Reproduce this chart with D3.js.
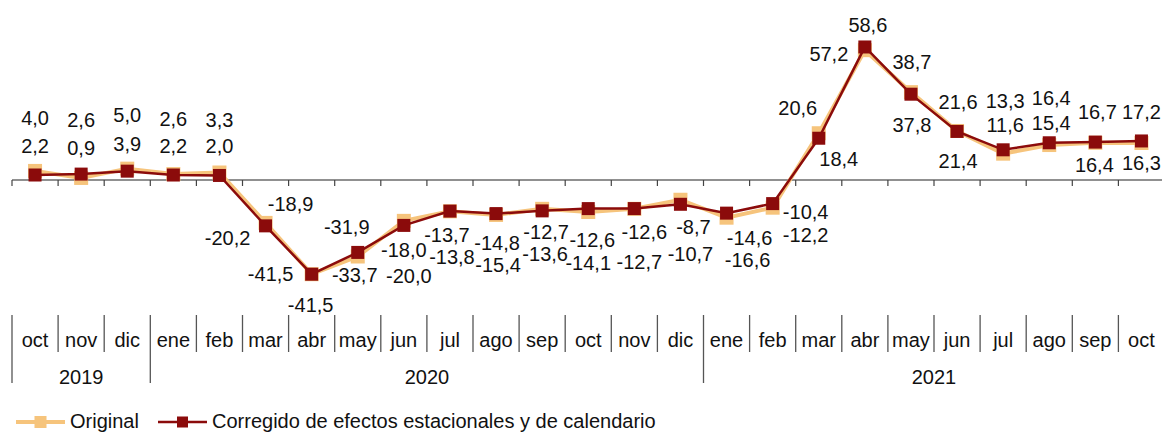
<!DOCTYPE html>
<html lang="es">
<head>
<meta charset="utf-8">
<script src="https://cdnjs.cloudflare.com/ajax/libs/d3/7.8.5/d3.min.js"></script>
<style>
  body { margin: 0; background: #fff; }
  text { font-family: "Liberation Sans", Arial, sans-serif; fill: #111; }
</style>
</head>
<body>
<div id="container"></div>
<script>
var w = 1162;
var h = 432;

// data
var months = ["oct","nov","dic","ene","feb","mar","abr","may","jun","jul","ago","sep",
              "oct","nov","dic","ene","feb","mar","abr","may","jun","jul","ago","sep","oct"];
var years = [
  {label: "2019", from: 0, to: 3},
  {label: "2020", from: 3, to: 15},
  {label: "2021", from: 15, to: 25}
];
var original = [4.0, 0.9, 5.0, 2.6, 3.3, -18.9, -41.5, -33.7, -18.0, -13.8, -15.4, -12.7,
                -14.1, -12.7, -8.7, -16.6, -12.2, 20.6, 57.2, 38.7, 21.6, 11.6, 15.4, 16.4, 16.3];
var corregido = [2.2, 2.6, 3.9, 2.2, 2.0, -20.2, -41.5, -31.9, -20.0, -13.7, -14.8, -13.6,
                 -12.6, -12.6, -10.7, -14.6, -10.4, 18.4, 58.6, 37.8, 21.4, 13.3, 16.4, 16.7, 17.2];
var seriesNames = ["Original", "Corregido de efectos estacionales y de calendario"];

// label placement (offset of label centre from its marker)
var origLabelPos = [[0,-53],[0,-30],[0,-54],[0,-55],[0,-53],[25,-19],[-41,0],[-3,19],[0,29],[2,46],
                    [2,50],[4,23],[0,51],[5,53],[13,27],[21,42],[33,27],[-21,-25],[-36,4],[1,-30],
                    [1,-29],[2,-29],[2,-22],[-1,22],[0,20]];
var corrLabelPos = [[0,-29],[0,-54],[0,-27],[0,-29],[0,-29],[-38,12],[-1,31],[-11,-25],[5,51],[-3,24],
                    [1,29],[3,43],[4,31],[10,23],[10,50],[23,25],[33,8],[20,21],[3,-22],[1,31],
                    [1,30],[2,-49],[2,-45],[2,-30],[0,-29]];

var colOrig = "#f6c47c";
var colCorr = "#8b0b0b";
var fs = 20;

var svg = d3.select("#container").append("svg")
  .attr("width", w)
  .attr("height", h);

var x0 = 12, step = 46.1;
var xscale = d3.scaleLinear().domain([0, months.length]).range([x0, x0 + step * months.length]);
var yscale = d3.scaleLinear().domain([-45, 60]).range([180 + 45 * 2.27, 180 - 60 * 2.27]);

function cx(i) { return xscale(i + 0.5); }
function fmt(v) { return v.toFixed(1).replace(".", ","); }

// zero axis with ticks
svg.append("line")
  .attr("x1", x0).attr("x2", w)
  .attr("y1", yscale(0)).attr("y2", yscale(0))
  .attr("stroke", "#222").attr("stroke-width", 1.2);
svg.selectAll("line.tick")
  .data(d3.range(months.length + 1))
  .enter().append("line")
  .attr("class", "tick")
  .attr("x1", function(d) { return xscale(d); })
  .attr("x2", function(d) { return xscale(d); })
  .attr("y1", yscale(0))
  .attr("y2", yscale(0) + 6)
  .attr("stroke", "#444").attr("stroke-width", 1.2);

// lines
var line = d3.line()
  .x(function(d, i) { return cx(i); })
  .y(function(d) { return yscale(d); });

svg.append("path").datum(original)
  .attr("d", line).attr("fill", "none")
  .attr("stroke", colOrig).attr("stroke-width", 4);
svg.selectAll("rect.orig")
  .data(original).enter().append("rect")
  .attr("class", "orig")
  .attr("x", function(d, i) { return cx(i) - 7; })
  .attr("y", function(d) { return yscale(d) - 7; })
  .attr("width", 14).attr("height", 14)
  .attr("fill", colOrig);

svg.append("path").datum(corregido)
  .attr("d", line).attr("fill", "none")
  .attr("stroke", colCorr).attr("stroke-width", 2.5);
svg.selectAll("rect.corr")
  .data(corregido).enter().append("rect")
  .attr("class", "corr")
  .attr("x", function(d, i) { return cx(i) - 6.5; })
  .attr("y", function(d) { return yscale(d) - 6.5; })
  .attr("width", 13).attr("height", 13)
  .attr("fill", colCorr);

// value labels
function addLabels(data, pos, cls) {
  svg.selectAll("text." + cls)
    .data(data).enter().append("text")
    .attr("class", cls)
    .attr("x", function(d, i) { return cx(i) + pos[i][0]; })
    .attr("y", function(d, i) { return yscale(d) + pos[i][1] + 7; })
    .attr("text-anchor", "middle")
    .attr("font-size", fs)
    .text(fmt);
}
addLabels(original, origLabelPos, "lo");
addLabels(corregido, corrLabelPos, "lc");

// category axis
var yearStarts = years.map(function(y) { return y.from; });
svg.selectAll("line.msep")
  .data(d3.range(months.length + 1))
  .enter().append("line")
  .attr("class", "msep")
  .attr("x1", function(d) { return xscale(d); })
  .attr("x2", function(d) { return xscale(d); })
  .attr("y1", 315)
  .attr("y2", function(d) { return yearStarts.indexOf(d) >= 0 ? 383 : 352; })
  .attr("stroke", "#555").attr("stroke-width", 1.3);

svg.selectAll("text.month")
  .data(months).enter().append("text")
  .attr("class", "month")
  .attr("x", function(d, i) { return cx(i); })
  .attr("y", 347)
  .attr("text-anchor", "middle")
  .attr("font-size", fs)
  .text(function(d) { return d; });

svg.selectAll("text.year")
  .data(years).enter().append("text")
  .attr("class", "year")
  .attr("x", function(d) { return (xscale(d.from) + xscale(d.to)) / 2; })
  .attr("y", 384)
  .attr("text-anchor", "middle")
  .attr("font-size", fs)
  .text(function(d) { return d.label; });

// legend
var legend = svg.append("g");
var legItems = [
  {name: seriesNames[0], color: colOrig, x: 16, sw: 4, ms: 12},
  {name: seriesNames[1], color: colCorr, x: 158, sw: 2.5, ms: 11}
];
legItems.forEach(function(it) {
  legend.append("line")
    .attr("x1", it.x).attr("x2", it.x + 49)
    .attr("y1", 422).attr("y2", 422)
    .attr("stroke", it.color).attr("stroke-width", it.sw);
  legend.append("rect")
    .attr("x", it.x + 24.5 - it.ms / 2).attr("y", 422 - it.ms / 2)
    .attr("width", it.ms).attr("height", it.ms)
    .attr("fill", it.color);
  legend.append("text")
    .attr("x", it.x + 54).attr("y", 427.5)
    .attr("font-size", fs)
    .text(it.name);
});
</script>
</body>
</html>
